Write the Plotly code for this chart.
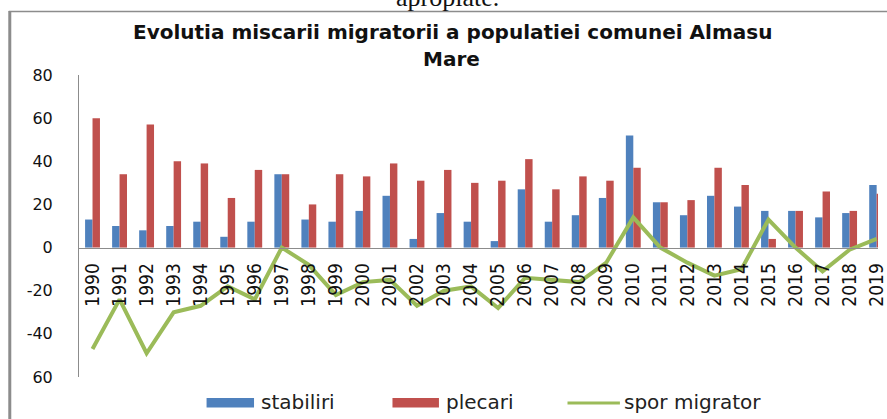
import plotly.graph_objects as go

years = [str(y) for y in range(1990, 2020)]
stabiliri = [13, 10, 8, 10, 12, 5, 12, 34, 13, 12, 17, 24, 4, 16, 12, 3, 27, 12,
             15, 23, 52, 21, 15, 24, 19, 17, 17, 14, 16, 29]
plecari = [60, 34, 57, 40, 39, 23, 36, 34, 20, 34, 33, 39, 31, 36, 30, 31, 41, 27,
           33, 31, 37, 21, 22, 37, 29, 4, 17, 26, 17, 25]
spor_migrator = [-47, -24, -49, -30, -27, -18, -24, 0, -8, -22, -16, -15, -27, -20, -18, -28,
                 -14, -15, -16, -7, 14, 0, -7, -13, -10, 13, 0, -11, -1, 4]
y_tickvals = [-60, -40, -20, 0, 20, 40, 60, 80]
y_ticktext = ["60", "-40", "-20", "0", "20", "40", "60", "80"]

W, H = 887, 419
ML, MR, MT, MB = 79, 0, 75, 42
PW = W - ML - MR
PH = H - MT - MB


def px(x):
    return (x - ML) / PW


def py(y):
    return (H - MB - y) / PH


BLUE = "#4F81BD"
RED = "#C0504D"
GREEN = "#9BBB59"
GREY = "#8c8c8c"

fig = go.Figure()
fig.add_trace(go.Bar(x=years, y=stabiliri, name="stabiliri", marker_color=BLUE,
                     marker_line_width=0, showlegend=False))
fig.add_trace(go.Bar(x=years, y=plecari, name="plecari", marker_color=RED,
                     marker_line_width=0, showlegend=False))
fig.add_trace(go.Scatter(x=years, y=spor_migrator, name="spor migrator", mode="lines",
                         line=dict(color=GREEN, width=4), showlegend=False))

fig.update_layout(
    width=W, height=H,
    margin=dict(l=ML, r=MR, t=MT, b=MB, pad=0),
    paper_bgcolor="white", plot_bgcolor="white",
    barmode="group", bargap=0.45, bargroupgap=0,
    xaxis=dict(type="category", range=[-0.5, 29.05],
               anchor="free", position=60 / 140,
               showline=True, linecolor=GREY, linewidth=1,
               showgrid=False, zeroline=False,
               ticks="outside", ticklen=7, tickcolor="rgba(0,0,0,0)",
               tickangle=-90,
               tickfont=dict(family="Liberation Sans Narrow, DejaVu Sans Condensed, Liberation Sans",
                             size=19, color="#111")),
    yaxis=dict(range=[-60, 80], tickvals=y_tickvals, ticktext=y_ticktext,
               showline=True, linecolor=GREY, linewidth=1,
               showgrid=False, zeroline=False,
               ticks="outside", ticklen=22, tickcolor="rgba(0,0,0,0)",
               tickfont=dict(family="DejaVu Sans", size=16, color="#111")),
)

shapes = [
    dict(type="line", xref="paper", yref="paper", x0=px(9), x1=px(9), y0=py(11), y1=py(430),
         line=dict(color=GREY, width=3)),
    dict(type="line", xref="paper", yref="paper", x0=px(8), x1=px(900), y0=py(11.5), y1=py(11.5),
         line=dict(color=GREY, width=1.5)),
    dict(type="rect", xref="paper", yref="paper", x0=px(208), x1=px(256), y0=py(398), y1=py(407.5),
         fillcolor=BLUE, line=dict(width=0)),
    dict(type="rect", xref="paper", yref="paper", x0=px(396), x1=px(443), y0=py(398), y1=py(407.5),
         fillcolor=RED, line=dict(width=0)),
    dict(type="line", xref="paper", yref="paper", x0=px(573), x1=px(626), y0=py(403), y1=py(403),
         line=dict(color=GREEN, width=3)),
]

ann = []
ann.append(dict(text="<b>Evolutia miscarii migratorii a populatiei comunei Almasu</b>",
                xref="paper", yref="paper", x=px(456.5), y=py(31.5),
                xanchor="center", yanchor="middle", showarrow=False,
                font=dict(family="DejaVu Sans", size=20, color="#111")))
ann.append(dict(text="<b>Mare</b>", xref="paper", yref="paper", x=px(456), y=py(59),
                xanchor="center", yanchor="middle", showarrow=False,
                font=dict(family="DejaVu Sans", size=20, color="#111")))
ann.append(dict(text="apropiate.", xref="paper", yref="paper", x=px(452), y=py(-2),
                xanchor="center", yanchor="middle", showarrow=False,
                font=dict(family="Liberation Serif", size=26, color="#111")))
leg_font = dict(family="DejaVu Sans", size=20, color="#222")
for label, x0 in [("stabiliri", 261), ("plecari", 448), ("spor migrator", 628)]:
    ann.append(dict(text=label, xref="paper", yref="paper", x=px(x0), y=py(402),
                    xanchor="left", yanchor="middle", showarrow=False, font=leg_font))

fig.update_layout(shapes=shapes, annotations=ann)
fig.write_html("out.html", config={"displayModeBar": False},
               post_script="document.body.style.margin='0';document.body.style.overflow='hidden';")
